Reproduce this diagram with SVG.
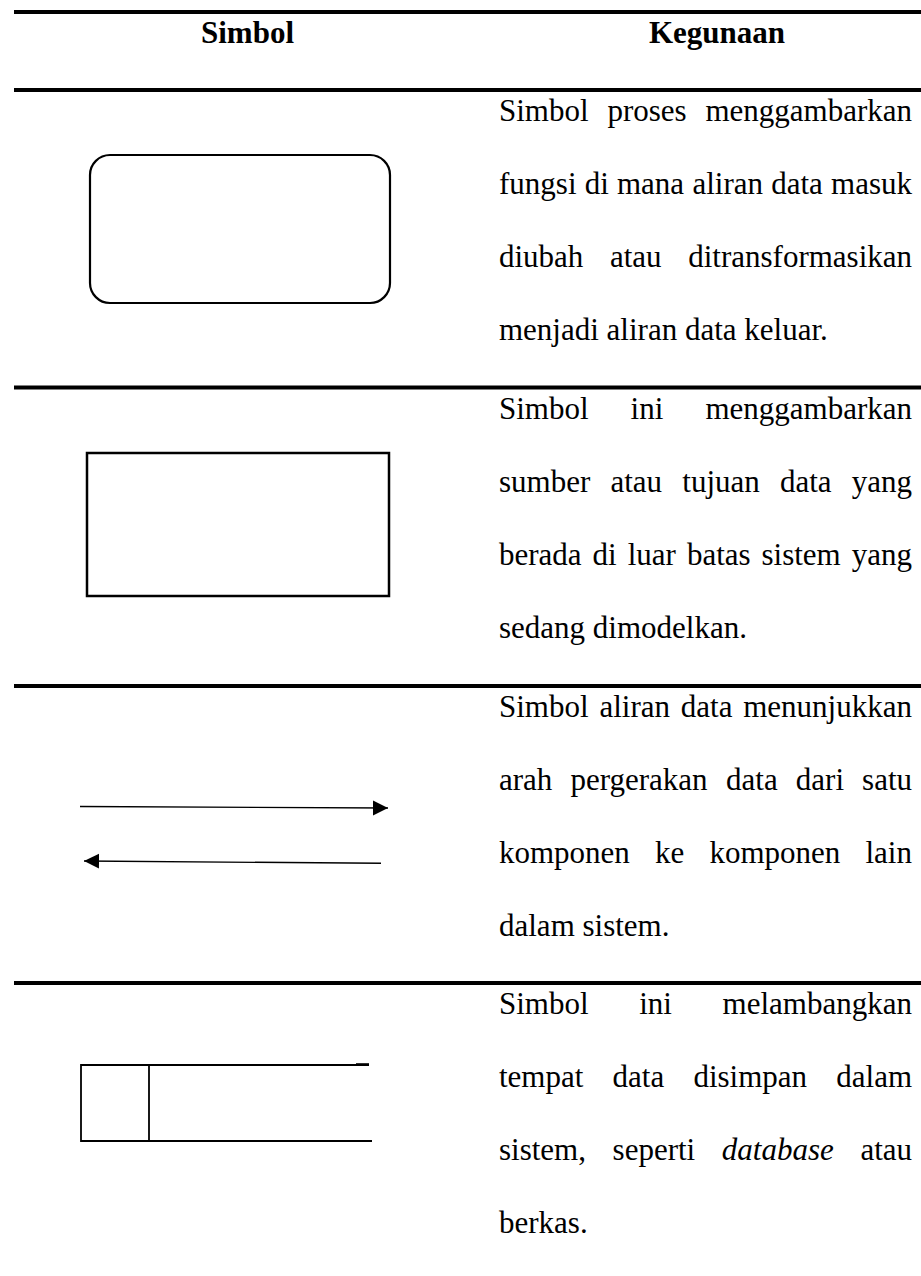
<svg xmlns="http://www.w3.org/2000/svg" width="921" height="1276" viewBox="0 0 921 1276">
<style>
.rule{stroke:#000;stroke-width:4;fill:none}
.hd{font-family:"Liberation Serif","Times New Roman",serif;font-size:31px;font-weight:bold;fill:#000;text-anchor:middle}
.tx{font-family:"Liberation Serif","Times New Roman",serif;font-size:31px;fill:#000}
.sym{fill:none;stroke:#000}
</style>
<defs>
<marker id="ah" markerWidth="16" markerHeight="16" refX="15" refY="8" orient="auto" markerUnits="userSpaceOnUse"><path d="M0,0.5 L15,8 L0,15.5 Z" fill="#000"/></marker>
</defs>
<rect width="921" height="1276" fill="#fff"/>
<g id="table-rules">
<line class="rule" x1="14" y1="12" x2="921" y2="12"/>
<line class="rule" x1="14" y1="90" x2="921" y2="90"/>
<line class="rule" x1="14" y1="387.5" x2="921" y2="387.5"/>
<line class="rule" x1="14" y1="686" x2="921" y2="686"/>
<line class="rule" x1="14" y1="983" x2="921" y2="983"/>
</g>
<g id="header">
<text class="hd" x="247.5" y="43">Simbol</text>
<text class="hd" x="717" y="43">Kegunaan</text>
</g>
<g id="process-symbol">
<rect class="sym" x="90" y="155" width="300" height="148" rx="20" ry="20" stroke-width="2.2"/>
</g>
<g id="process-text" class="tx">
<text y="121"><tspan x="499">Simbol</tspan><tspan x="607.4">proses</tspan><tspan x="705.4">menggambarkan</tspan></text>
<text y="194"><tspan x="499">fungsi</tspan><tspan x="584.7">di</tspan><tspan x="617">mana</tspan><tspan x="692.4">aliran</tspan><tspan x="771.2">data</tspan><tspan x="831.1">masuk</tspan></text>
<text y="267"><tspan x="499">diubah</tspan><tspan x="609.9">atau</tspan><tspan x="688.2">ditransformasikan</tspan></text>
<text y="340" x="499">menjadi aliran data keluar.</text>
</g>
<g id="entity-symbol">
<rect class="sym" x="87" y="453" width="302" height="143" stroke-width="2.5"/>
</g>
<g id="entity-text" class="tx">
<text y="418.5"><tspan x="499">Simbol</tspan><tspan x="630.6">ini</tspan><tspan x="705.4">menggambarkan</tspan></text>
<text y="491.5"><tspan x="499">sumber</tspan><tspan x="610.4">atau</tspan><tspan x="682.3">tujuan</tspan><tspan x="779.9">data</tspan><tspan x="851.7">yang</tspan></text>
<text y="564.5"><tspan x="499">berada</tspan><tspan x="592.6">di</tspan><tspan x="627.7">luar</tspan><tspan x="686.9">batas</tspan><tspan x="761.5">sistem</tspan><tspan x="851.8">yang</tspan></text>
<text y="637.5" x="499">sedang dimodelkan.</text>
</g>
<g id="connectors">
<line x1="80" y1="806.5" x2="388" y2="808" stroke="#000" stroke-width="1.4" marker-end="url(#ah)"/>
<line x1="381" y1="863.3" x2="84" y2="861" stroke="#000" stroke-width="1.4" marker-end="url(#ah)"/>
</g>
<g id="flow-text" class="tx">
<text y="717"><tspan x="499">Simbol</tspan><tspan x="599.4">aliran</tspan><tspan x="680.8">data</tspan><tspan x="743.2">menunjukkan</tspan></text>
<text y="790"><tspan x="499">arah</tspan><tspan x="570.4">pergerakan</tspan><tspan x="726.1">data</tspan><tspan x="795.8">dari</tspan><tspan x="862.1">satu</tspan></text>
<text y="863"><tspan x="499">komponen</tspan><tspan x="655">ke</tspan><tspan x="709.5">komponen</tspan><tspan x="865.5">lain</tspan></text>
<text y="936" x="499">dalam sistem.</text>
</g>
<g id="datastore-symbol" class="sym" stroke-width="1.8">
<line x1="81" y1="1065" x2="369" y2="1065"/>
<line x1="356" y1="1064.5" x2="369" y2="1064.5" stroke-width="2.6"/>
<line x1="81" y1="1141" x2="372" y2="1141"/>
<line x1="81" y1="1064" x2="81" y2="1142"/>
<line x1="149" y1="1065" x2="149" y2="1141"/>
</g>
<g id="datastore-text" class="tx">
<text y="1014"><tspan x="499">Simbol</tspan><tspan x="639.2">ini</tspan><tspan x="722.6">melambangkan</tspan></text>
<text y="1087"><tspan x="499">tempat</tspan><tspan x="612.6">data</tspan><tspan x="693.4">disimpan</tspan><tspan x="836.3">dalam</tspan></text>
<text y="1160"><tspan x="499">sistem,</tspan><tspan x="612.6">seperti</tspan><tspan x="721.8" font-style="italic">database</tspan><tspan x="860.4">atau</tspan></text>
<text y="1233" x="499">berkas.</text>
</g>
</svg>
